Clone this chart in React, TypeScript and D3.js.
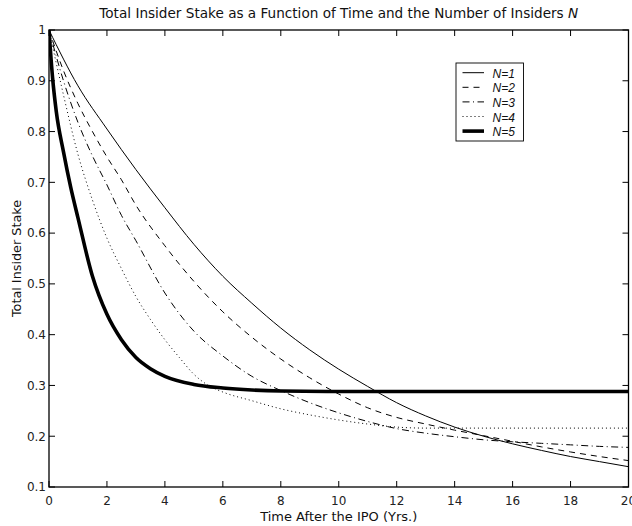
import * as d3 from "d3";
import { useEffect, useRef } from "react";

// time grid (years) and total insider stake for each series
const tN1 = [0, 1, 2, 3, 4, 5, 6, 7, 8, 9, 10, 11, 12, 13, 14, 15, 16, 17, 18, 19, 20];
const stakeN1 = [1.0, 0.89, 0.805, 0.725, 0.65, 0.578, 0.515, 0.462, 0.413, 0.37, 0.332, 0.298, 0.266, 0.24, 0.218, 0.2, 0.185, 0.172, 0.16, 0.15, 0.14];

const tN2 = [0, 0.5, 1, 1.5, 2, 2.5, 3, 4, 5, 6, 7, 8, 9, 10, 11, 12, 13, 14, 15, 16, 17, 18, 19, 20];
const stakeN2 = [1.0, 0.92, 0.855, 0.8, 0.75, 0.705, 0.655, 0.575, 0.505, 0.445, 0.395, 0.352, 0.315, 0.283, 0.256, 0.237, 0.224, 0.212, 0.201, 0.19, 0.179, 0.169, 0.16, 0.152];

const tN3 = [0, 0.5, 1, 1.5, 2, 2.5, 3, 4, 5, 6, 7, 8, 9, 10, 11, 12, 13, 14, 15, 16, 17, 18, 19, 20];
const stakeN3 = [1.0, 0.9, 0.818, 0.752, 0.695, 0.635, 0.585, 0.482, 0.407, 0.358, 0.318, 0.29, 0.266, 0.246, 0.229, 0.215, 0.206, 0.199, 0.193, 0.189, 0.186, 0.183, 0.18, 0.178];

const tN4 = [0, 0.5, 1, 1.5, 2, 2.5, 3, 3.5, 4, 4.5, 5, 5.5, 6, 7, 8, 9, 10, 11, 12, 13, 20];
const stakeN4 = [1.0, 0.872, 0.755, 0.665, 0.59, 0.53, 0.475, 0.43, 0.39, 0.355, 0.322, 0.3, 0.287, 0.27, 0.254, 0.242, 0.232, 0.224, 0.218, 0.216, 0.216];

const tN5 = [0, 0.125, 0.25, 0.5, 0.75, 1, 1.5, 2, 2.5, 3, 3.5, 4, 5, 6, 7, 8, 10, 20];
const stakeN5 = [1.0, 0.905, 0.84, 0.76, 0.69, 0.63, 0.515, 0.44, 0.39, 0.355, 0.333, 0.318, 0.302, 0.295, 0.291, 0.289, 0.288, 0.288];

const seriesNames = ["N=1", "N=2", "N=3", "N=4", "N=5"];
const xTicks = [0, 2, 4, 6, 8, 10, 12, 14, 16, 18, 20];
const yTicks = [0.1, 0.2, 0.3, 0.4, 0.5, 0.6, 0.7, 0.8, 0.9, 1];

const font = "'DejaVu Sans', Verdana, sans-serif";
const legendFont = "'Liberation Sans', Arial, Helvetica, sans-serif";

export default function App() {
  const ref = useRef<SVGSVGElement>(null);

  useEffect(() => {
    const svg = d3.select(ref.current);
    svg.selectAll("*").remove();

    const left = 49;
    const right = 628.5;
    const top = 30;
    const bottom = 487;

    const x = d3.scaleLinear().domain([0, 20]).range([left, right]);
    const y = d3.scaleLinear().domain([0.1, 1]).range([bottom, top]);

    const series = [
      { name: seriesNames[0], t: tN1, v: stakeN1, width: 1, dash: null },
      { name: seriesNames[1], t: tN2, v: stakeN2, width: 1, dash: "6,5" },
      { name: seriesNames[2], t: tN3, v: stakeN3, width: 1, dash: "7,3.5,1,3.5" },
      { name: seriesNames[3], t: tN4, v: stakeN4, width: 1, dash: "1,3" },
      { name: seriesNames[4], t: tN5, v: stakeN5, width: 3.6, dash: null },
    ];

    const line = d3
      .line<[number, number]>()
      .x((d) => x(d[0]))
      .y((d) => y(d[1]))
      .curve(d3.curveMonotoneX);

    svg
      .append("clipPath")
      .attr("id", "plotClip")
      .append("rect")
      .attr("x", left)
      .attr("y", top - 2)
      .attr("width", right - left)
      .attr("height", bottom - top + 2);

    const plot = svg.append("g").attr("clip-path", "url(#plotClip)");

    series.forEach((s) => {
      const pts = s.t.map((t, i) => [t, s.v[i]] as [number, number]);
      plot
        .append("path")
        .attr("d", line(pts))
        .attr("fill", "none")
        .attr("stroke", "#000")
        .attr("stroke-width", s.width)
        .attr("stroke-dasharray", s.dash)
        .attr("stroke-linejoin", "round");
    });

    // frame
    svg
      .append("rect")
      .attr("x", left)
      .attr("y", top)
      .attr("width", right - left)
      .attr("height", bottom - top)
      .attr("fill", "none")
      .attr("stroke", "#000")
      .attr("stroke-width", 1.3);

    const tickLen = 6;
    const axes = svg.append("g").attr("stroke", "#000").attr("stroke-width", 1);

    xTicks.forEach((t) => {
      axes.append("line").attr("x1", x(t)).attr("x2", x(t)).attr("y1", bottom).attr("y2", bottom - tickLen);
      axes.append("line").attr("x1", x(t)).attr("x2", x(t)).attr("y1", top).attr("y2", top + tickLen);
    });
    yTicks.forEach((v) => {
      axes.append("line").attr("x1", left).attr("x2", left + tickLen).attr("y1", y(v)).attr("y2", y(v));
      axes.append("line").attr("x1", right).attr("x2", right - tickLen).attr("y1", y(v)).attr("y2", y(v));
    });

    svg
      .append("g")
      .selectAll("text")
      .data(xTicks)
      .join("text")
      .attr("x", (d) => x(d))
      .attr("y", bottom + 18)
      .attr("text-anchor", "middle")
      .attr("font-family", font)
      .attr("font-size", 12)
      .attr("fill", "#222")
      .text((d) => d3.format("")(d));

    svg
      .append("g")
      .selectAll("text")
      .data(yTicks)
      .join("text")
      .attr("x", left - 3)
      .attr("y", (d) => y(d) + 4.3)
      .attr("text-anchor", "end")
      .attr("font-family", font)
      .attr("font-size", 12)
      .attr("fill", "#222")
      .text((d) => (d === 1 ? "1" : d3.format(".1f")(d)));

    // title
    const title = svg
      .append("text")
      .attr("x", (left + right) / 2)
      .attr("y", 18)
      .attr("text-anchor", "middle")
      .attr("font-family", font)
      .attr("font-size", 13.6)
      .attr("fill", "#111")
      .text("Total Insider Stake as a Function of Time and the Number of Insiders ");
    title.append("tspan").attr("font-style", "italic").text("N");

    svg
      .append("text")
      .attr("x", (left + right) / 2)
      .attr("y", 521)
      .attr("text-anchor", "middle")
      .attr("font-family", font)
      .attr("font-size", 13)
      .attr("fill", "#111")
      .text("Time After the IPO (Yrs.)");

    svg
      .append("text")
      .attr("transform", `translate(21, ${(top + bottom) / 2}) rotate(-90)`)
      .attr("text-anchor", "middle")
      .attr("font-family", font)
      .attr("font-size", 12.8)
      .attr("fill", "#111")
      .text("Total Insider Stake");

    // legend
    const lx = 456;
    const ly = 63;
    const legend = svg.append("g");
    legend
      .append("rect")
      .attr("x", lx)
      .attr("y", ly)
      .attr("width", 67.5)
      .attr("height", 78)
      .attr("fill", "#fff")
      .attr("stroke", "#000")
      .attr("stroke-width", 0.9);

    series.forEach((s, i) => {
      const yy = ly + 9.7 + i * 14.6;
      legend
        .append("line")
        .attr("x1", lx + 6.5)
        .attr("x2", lx + 28)
        .attr("y1", yy)
        .attr("y2", yy)
        .attr("stroke", "#000")
        .attr("stroke-width", s.width)
        .attr("stroke-dasharray", s.dash);
      legend
        .append("text")
        .attr("x", lx + 36.5)
        .attr("y", yy + 5)
        .attr("font-family", legendFont)
        .attr("font-size", 12)
        .attr("font-style", "italic")
        .attr("fill", "#111")
        .text(s.name);
    });
  }, []);

  return (
    <svg
      ref={ref}
      width={632}
      height={526}
      style={{ position: "absolute", left: 0, top: 0, background: "#fff" }}
    />
  );
}
